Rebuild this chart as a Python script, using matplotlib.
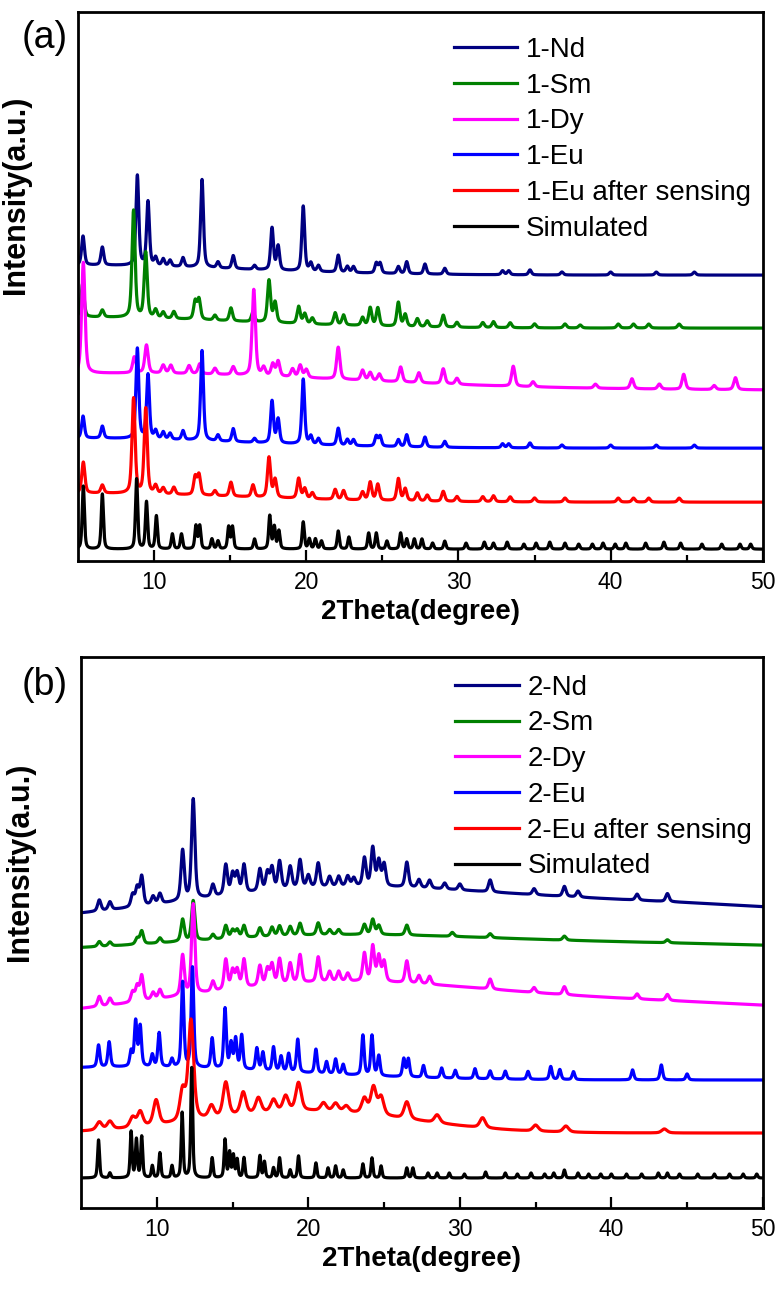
import numpy as np
import matplotlib
matplotlib.use("Agg")
import matplotlib.pyplot as plt

plt.rcParams['font.family'] = ['Liberation Sans', 'DejaVu Sans']

# ---------------- data: (2theta, height) peak lists, background terms ----------------
two_theta = np.linspace(5, 50, 4501)

# panel (a)
a_labels = ['1-Nd', '1-Sm', '1-Dy', '1-Eu', '1-Eu after sensing', 'Simulated']
a_offsets = [286, 233, 171, 113, 59, 12]
a_background = [
    [(5, 10, 25)],
    [(5, 11, 25)],
    [(8, 17, 35)],
    [(5, 10, 25)],
    [(5, 9, 25)],
    [],
]
a_widths = [0.22, 0.24, 0.26, 0.22, 0.24, 0.17]

nd1_peaks = [(5.33, 29), (6.6, 18), (8.9, 90), (9.6, 64), (10.1, 8), (10.6, 7), (11.05, 6),
             (11.9, 9), (13.15, 88), (14.2, 6), (15.2, 13), (16.6, 4), (17.75, 42), (18.15, 24),
             (19.8, 65), (20.3, 8), (20.8, 6), (22.1, 17), (22.7, 6), (23.1, 6), (24.6, 10),
             (24.85, 10), (26.05, 7), (26.6, 12), (27.8, 10), (29.1, 6), (32.9, 4), (33.3, 4),
             (34.7, 5), (36.8, 3), (40.0, 3), (43.0, 3), (45.5, 3)]
sm1_peaks = [(5.3, 33), (6.6, 7), (8.65, 107), (9.45, 65), (10.1, 8), (10.6, 6), (11.3, 7),
             (12.7, 18), (12.95, 20), (14.0, 5), (15.05, 13), (16.5, 10), (17.55, 42), (17.95, 20),
             (19.5, 17), (19.9, 10), (20.4, 6), (21.9, 12), (22.45, 10), (23.7, 8), (24.2, 18),
             (24.7, 18), (26.05, 24), (26.5, 12), (27.3, 8), (27.95, 6), (29.0, 12), (29.9, 5),
             (31.6, 5), (32.3, 6), (33.4, 5), (35.0, 4), (37.0, 4), (38.0, 3), (40.5, 4),
             (41.5, 4), (42.5, 4), (44.5, 4)]
dy1_peaks = [(5.35, 111), (8.7, 16), (9.5, 28), (10.6, 8), (11.1, 8), (12.3, 8), (13.0, 10),
             (14.0, 6), (15.2, 8), (16.55, 86), (17.2, 8), (17.8, 12), (18.15, 15), (19.1, 8),
             (19.6, 12), (20.0, 8), (22.1, 32), (23.7, 10), (24.2, 8), (24.8, 7), (26.2, 15),
             (27.4, 10), (29.0, 15), (29.9, 6), (33.6, 20), (34.9, 5), (39.0, 4), (41.4, 10),
             (43.2, 5), (44.8, 15), (46.8, 4), (48.2, 12)]
eu1_peaks = [(5.33, 22), (6.6, 12), (8.9, 90), (9.6, 64), (10.1, 8), (10.6, 7), (11.05, 6),
             (11.9, 9), (13.15, 90), (14.2, 6), (15.2, 13), (16.6, 4), (17.75, 42), (18.15, 24),
             (19.8, 65), (20.3, 8), (20.8, 6), (22.1, 17), (22.7, 6), (23.1, 6), (24.6, 10),
             (24.85, 10), (26.05, 7), (26.6, 12), (27.8, 10), (29.1, 6), (32.9, 4), (33.3, 4),
             (34.7, 5), (36.8, 3), (40.0, 3), (43.0, 3), (45.5, 3)]
eu1s_peaks = [(5.35, 31), (6.6, 8), (8.65, 95), (9.45, 85), (10.1, 8), (10.6, 6), (11.3, 7),
              (12.7, 18), (12.95, 20), (14.0, 5), (15.05, 14), (16.5, 12), (17.55, 40), (17.95, 18),
              (19.5, 20), (19.9, 10), (20.4, 6), (21.9, 10), (22.45, 9), (23.7, 8), (24.2, 18),
              (24.7, 16), (26.05, 22), (26.5, 12), (27.3, 8), (27.95, 6), (29.0, 10), (29.9, 5),
              (31.6, 5), (32.3, 6), (33.4, 5), (35.0, 4), (37.0, 4), (40.5, 4), (41.5, 4),
              (42.5, 4), (44.5, 4)]
sim1_peaks = [(5.35, 63), (6.6, 55), (8.85, 70), (9.5, 47), (10.15, 33), (11.2, 15), (11.8, 15),
              (12.75, 23), (13.0, 23), (13.8, 10), (14.2, 8), (14.9, 22), (15.15, 22), (16.6, 10),
              (17.6, 33), (17.9, 22), (18.2, 18), (19.8, 27), (20.2, 10), (20.6, 10), (21.0, 8),
              (22.1, 18), (22.8, 12), (24.1, 16), (24.6, 16), (25.3, 8), (26.2, 16), (26.6, 10),
              (27.1, 10), (27.6, 10), (28.3, 6), (29.1, 8), (30.5, 6), (31.7, 7), (32.3, 6),
              (33.2, 7), (34.3, 5), (35.1, 6), (36.0, 7), (37.0, 6), (37.9, 5), (38.8, 5),
              (39.5, 6), (40.3, 5), (41.0, 6), (42.3, 6), (43.5, 7), (44.6, 6), (46.0, 5),
              (47.3, 5), (48.5, 5), (49.2, 5)]
a_peaks = [nd1_peaks, sm1_peaks, dy1_peaks, eu1_peaks, eu1s_peaks, sim1_peaks]

# panel (b)
b_labels = ['2-Nd', '2-Sm', '2-Dy', '2-Eu', '2-Eu after sensing', 'Simulated']
b_offsets = [286, 256, 190, 128, 75, 30]
b_background = [
    [(21, 30, 24), (42, 18, 30)],
    [(21, 15, 24), (42, 8, 30)],
    [(21, 32, 24), (42, 15, 30)],
    [(8, 13, 25)],
    [(20, 22, 16)],
    [],
]
b_widths = [0.26, 0.26, 0.26, 0.2, 0.42, 0.15]

nd2_peaks = [(6.2, 11), (6.9, 8), (8.4, 12), (8.7, 18), (9.0, 29), (9.75, 8), (10.2, 10),
             (11.7, 50), (12.4, 100), (13.7, 12), (14.55, 30), (15.0, 20), (15.3, 20), (15.75, 28),
             (16.8, 22), (17.3, 18), (17.6, 22), (18.1, 28), (18.8, 22), (19.45, 28), (20.0, 12),
             (20.65, 24), (21.4, 10), (22.0, 10), (22.6, 10), (23.0, 8), (23.7, 28), (24.25, 38),
             (24.65, 25), (25.0, 22), (26.5, 25), (27.3, 8), (28.0, 8), (29.0, 6), (30.0, 6),
             (32.0, 12), (34.9, 6), (36.9, 10), (37.8, 6), (41.7, 6), (43.7, 8)]
sm2_peaks = [(6.2, 5), (6.9, 4), (8.7, 6), (9.0, 13), (10.2, 5), (11.7, 22), (12.4, 40),
             (13.7, 5), (14.55, 13), (15.0, 8), (15.3, 8), (15.75, 12), (16.8, 9), (17.6, 9),
             (18.1, 10), (18.8, 9), (19.45, 12), (20.65, 12), (21.4, 5), (22.0, 5), (23.7, 10),
             (24.25, 15), (24.65, 9), (26.5, 10), (29.5, 4), (32.0, 4), (36.9, 4), (43.7, 3)]
dy2_peaks = [(6.2, 10), (6.9, 7), (8.4, 10), (8.7, 15), (9.0, 25), (9.75, 7), (10.2, 9),
             (11.7, 40), (12.4, 90), (13.7, 10), (14.55, 30), (15.0, 18), (15.3, 18), (15.75, 28),
             (16.8, 20), (17.3, 16), (17.6, 20), (18.1, 25), (18.8, 20), (19.45, 28), (20.65, 25),
             (21.4, 10), (22.0, 10), (22.6, 8), (23.7, 28), (24.25, 35), (24.65, 25), (25.0, 20),
             (26.5, 22), (27.3, 8), (28.0, 8), (32.0, 10), (34.9, 5), (36.9, 8), (41.7, 5),
             (43.7, 6)]
eu2_peaks = [(6.15, 22), (6.85, 25), (8.3, 15), (8.6, 45), (8.9, 40), (9.7, 12), (10.15, 34),
             (11.0, 8), (11.7, 85), (12.35, 100), (13.65, 30), (14.5, 60), (14.9, 25), (15.2, 30),
             (15.6, 34), (16.6, 22), (17.0, 18), (17.7, 24), (18.2, 15), (18.7, 18), (19.3, 33),
             (20.5, 24), (21.2, 12), (21.8, 15), (22.3, 10), (23.6, 40), (24.2, 40), (24.65, 20),
             (26.3, 18), (26.6, 18), (27.6, 12), (28.8, 10), (29.7, 8), (31.0, 10), (32.0, 8),
             (33.0, 8), (34.5, 8), (36.0, 13), (36.6, 10), (37.5, 8), (41.4, 10), (43.3, 15),
             (45.0, 6)]
eu2s_peaks = [(6.2, 8), (6.9, 8), (8.4, 10), (8.9, 15), (9.95, 25), (11.7, 30), (12.25, 100),
              (13.6, 12), (14.55, 34), (15.7, 22), (16.7, 15), (17.7, 12), (18.5, 15), (19.35, 28),
              (21.0, 8), (21.8, 8), (22.5, 6), (23.7, 15), (24.3, 27), (24.8, 18), (26.5, 17),
              (28.5, 8), (31.5, 10), (35.0, 6), (37.0, 6), (43.5, 4)]
sim2_peaks = [(6.15, 38), (6.9, 5), (8.3, 46), (8.65, 38), (9.0, 41), (9.7, 12), (10.2, 25),
              (11.0, 12), (11.67, 65), (12.3, 110), (13.65, 20), (14.5, 38), (14.8, 25), (15.05, 22),
              (15.3, 18), (15.75, 20), (16.8, 22), (17.1, 16), (17.7, 10), (18.1, 20), (18.8, 8),
              (19.35, 22), (20.5, 15), (21.3, 10), (21.8, 12), (22.3, 8), (23.6, 14), (24.2, 20),
              (24.8, 12), (26.5, 10), (26.9, 10), (27.9, 5), (28.5, 5), (29.3, 5), (30.3, 4),
              (31.7, 6), (33.0, 5), (33.8, 4), (34.7, 5), (35.6, 4), (36.2, 5), (36.9, 8),
              (37.8, 5), (38.5, 4), (39.3, 4), (40.0, 4), (41.0, 4), (42.0, 4), (43.1, 5),
              (43.7, 5), (44.5, 4), (45.7, 4), (46.8, 4), (47.8, 4), (48.7, 4), (49.6, 4)]
b_peaks = [nd2_peaks, sm2_peaks, dy2_peaks, eu2_peaks, eu2s_peaks, sim2_peaks]

colors = ['#000080', '#008000', '#ff00ff', '#0000ff', '#ff0000', '#000000']


def pattern(offset, background, peaks, fwhm):
    """Build a powder pattern from a peak list (pseudo-Voigt peaks on a broad background)."""
    y = np.full_like(two_theta, float(offset))
    for c, h, w in background:
        y += h * np.exp(-np.log(2) * ((two_theta - c) / (w / 2)) ** 2)
    hw = fwhm / 2
    for c, h in peaks:
        d = (two_theta - c) / hw
        y += h * (0.5 / (1 + d ** 2) + 0.5 * np.exp(-np.log(2) * d ** 2))
    return y


fig = plt.figure(figsize=(7.8, 12.93), dpi=100)
ax_a = fig.add_axes([0.1, 0.566, 0.878, 0.4247])
ax_b = fig.add_axes([0.104, 0.0657, 0.874, 0.4263])

panels = [
    (ax_a, a_labels, a_offsets, a_background, a_peaks, a_widths, 549, 0.667, '(a)', 38, 0.99),
    (ax_b, b_labels, b_offsets, b_background, b_peaks, b_widths, 551, 0.628, '(b)', 685, 1.003),
]

for ax, labels, offsets, bgs, peaks, widths, ytop, ylab_y, tag, tag_y, leg_y in panels:
    for lab, off, bg, pk, w, col in zip(labels, offsets, bgs, peaks, widths, colors):
        ax.plot(two_theta, pattern(off, bg, pk, w), color=col, lw=2.3, label=lab)

    ax.set_xlim(5, 50)
    ax.set_ylim(0, ytop)
    ax.set_xticks([10, 20, 30, 40, 50])
    ax.set_xticks([15, 25, 35, 45], minor=True)
    ax.set_yticks([])
    ax.tick_params(axis='x', which='major', direction='in', length=8, width=1.6,
                   labelsize=16.5, pad=7)
    ax.tick_params(axis='x', which='minor', direction='in', length=4, width=1.6)
    for sp in ax.spines.values():
        sp.set_linewidth(2.0)

    ax.set_xlabel('2Theta(degree)', fontsize=20, fontweight='bold', labelpad=4)
    ax.set_ylabel('Intensity(a.u.)', fontsize=22, fontweight='bold')
    ax.yaxis.set_label_coords(-0.068, ylab_y)

    ax.legend(loc='upper left', bbox_to_anchor=(0.52, leg_y), frameon=False,
              fontsize=20, handlelength=2.3, handletextpad=0.3, labelspacing=0.35,
              borderpad=0.2)

    fig.text(45 / 780, 1 - tag_y / 1293, tag, fontsize=27, ha='center', va='center')

fig.savefig('out.png', dpi=100)
